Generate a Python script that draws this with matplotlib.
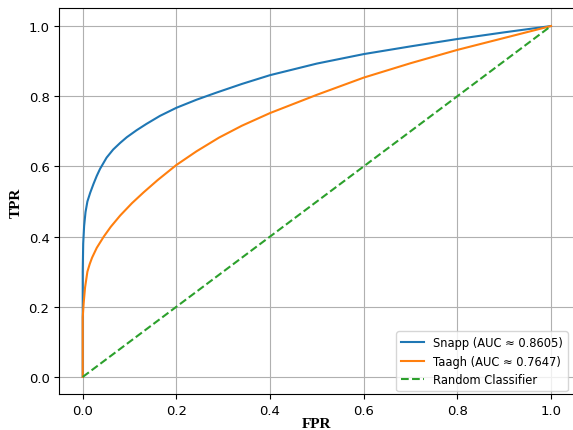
import matplotlib
matplotlib.use('Agg')
import matplotlib.pyplot as plt

# values
snapp_fpr = [0.0, 0.0, 0.001, 0.003, 0.006, 0.01, 0.016, 0.023, 0.03, 0.037, 0.051, 0.065,
             0.08, 0.094, 0.115, 0.136, 0.165, 0.2, 0.243, 0.285, 0.34, 0.4, 0.5, 0.6,
             0.7, 0.8, 0.9, 1.0]
snapp_tpr = [0.0, 0.30, 0.38, 0.43, 0.47, 0.50, 0.525, 0.55, 0.573, 0.593, 0.625, 0.648,
             0.667, 0.683, 0.703, 0.721, 0.744, 0.767, 0.79, 0.81, 0.835, 0.86, 0.893, 0.92,
             0.942, 0.963, 0.982, 1.0]

taagh_fpr = [0.0, 0.0, 0.002, 0.005, 0.01, 0.015, 0.02, 0.03, 0.045, 0.06, 0.08, 0.105,
             0.13, 0.16, 0.2, 0.243, 0.291, 0.34, 0.4, 0.5, 0.6, 0.7, 0.8, 0.9, 1.0]
taagh_tpr = [0.0, 0.17, 0.21, 0.255, 0.30, 0.322, 0.34, 0.368, 0.40, 0.428, 0.46, 0.495,
             0.526, 0.561, 0.604, 0.643, 0.682, 0.716, 0.752, 0.804, 0.853, 0.894, 0.932,
             0.966, 1.0]

diag = [0.0, 1.0]

labels = ['Snapp (AUC \u2248 0.8605)', 'Taagh (AUC \u2248 0.7647)', 'Random Classifier']

fig = plt.figure(figsize=(5.73, 4.31), dpi=100)
ax = fig.add_axes([0.1035, 0.0824, 0.899, 0.8956])

ax.plot(snapp_fpr, snapp_tpr, color='#1f77b4', lw=1.5, label=labels[0])
ax.plot(taagh_fpr, taagh_tpr, color='#ff7f0e', lw=1.5, label=labels[1])
ax.plot(diag, diag, color='#2ca02c', ls='--', lw=1.5, label=labels[2])

ax.set_xlim(-0.05, 1.05)
ax.set_ylim(-0.05, 1.05)
ax.grid(True)
ax.tick_params(labelsize=9.5)
ax.set_xlabel('FPR', fontfamily='Liberation Serif', fontweight='bold', fontsize=11, labelpad=0)
ax.set_ylabel('TPR', fontfamily='Liberation Serif', fontweight='bold', fontsize=11)
ax.legend(loc='lower right', fontsize=8.3, borderaxespad=0, bbox_to_anchor=(0.987, 0.009))

fig.savefig('out.png', dpi=100)
plt.close(fig)
